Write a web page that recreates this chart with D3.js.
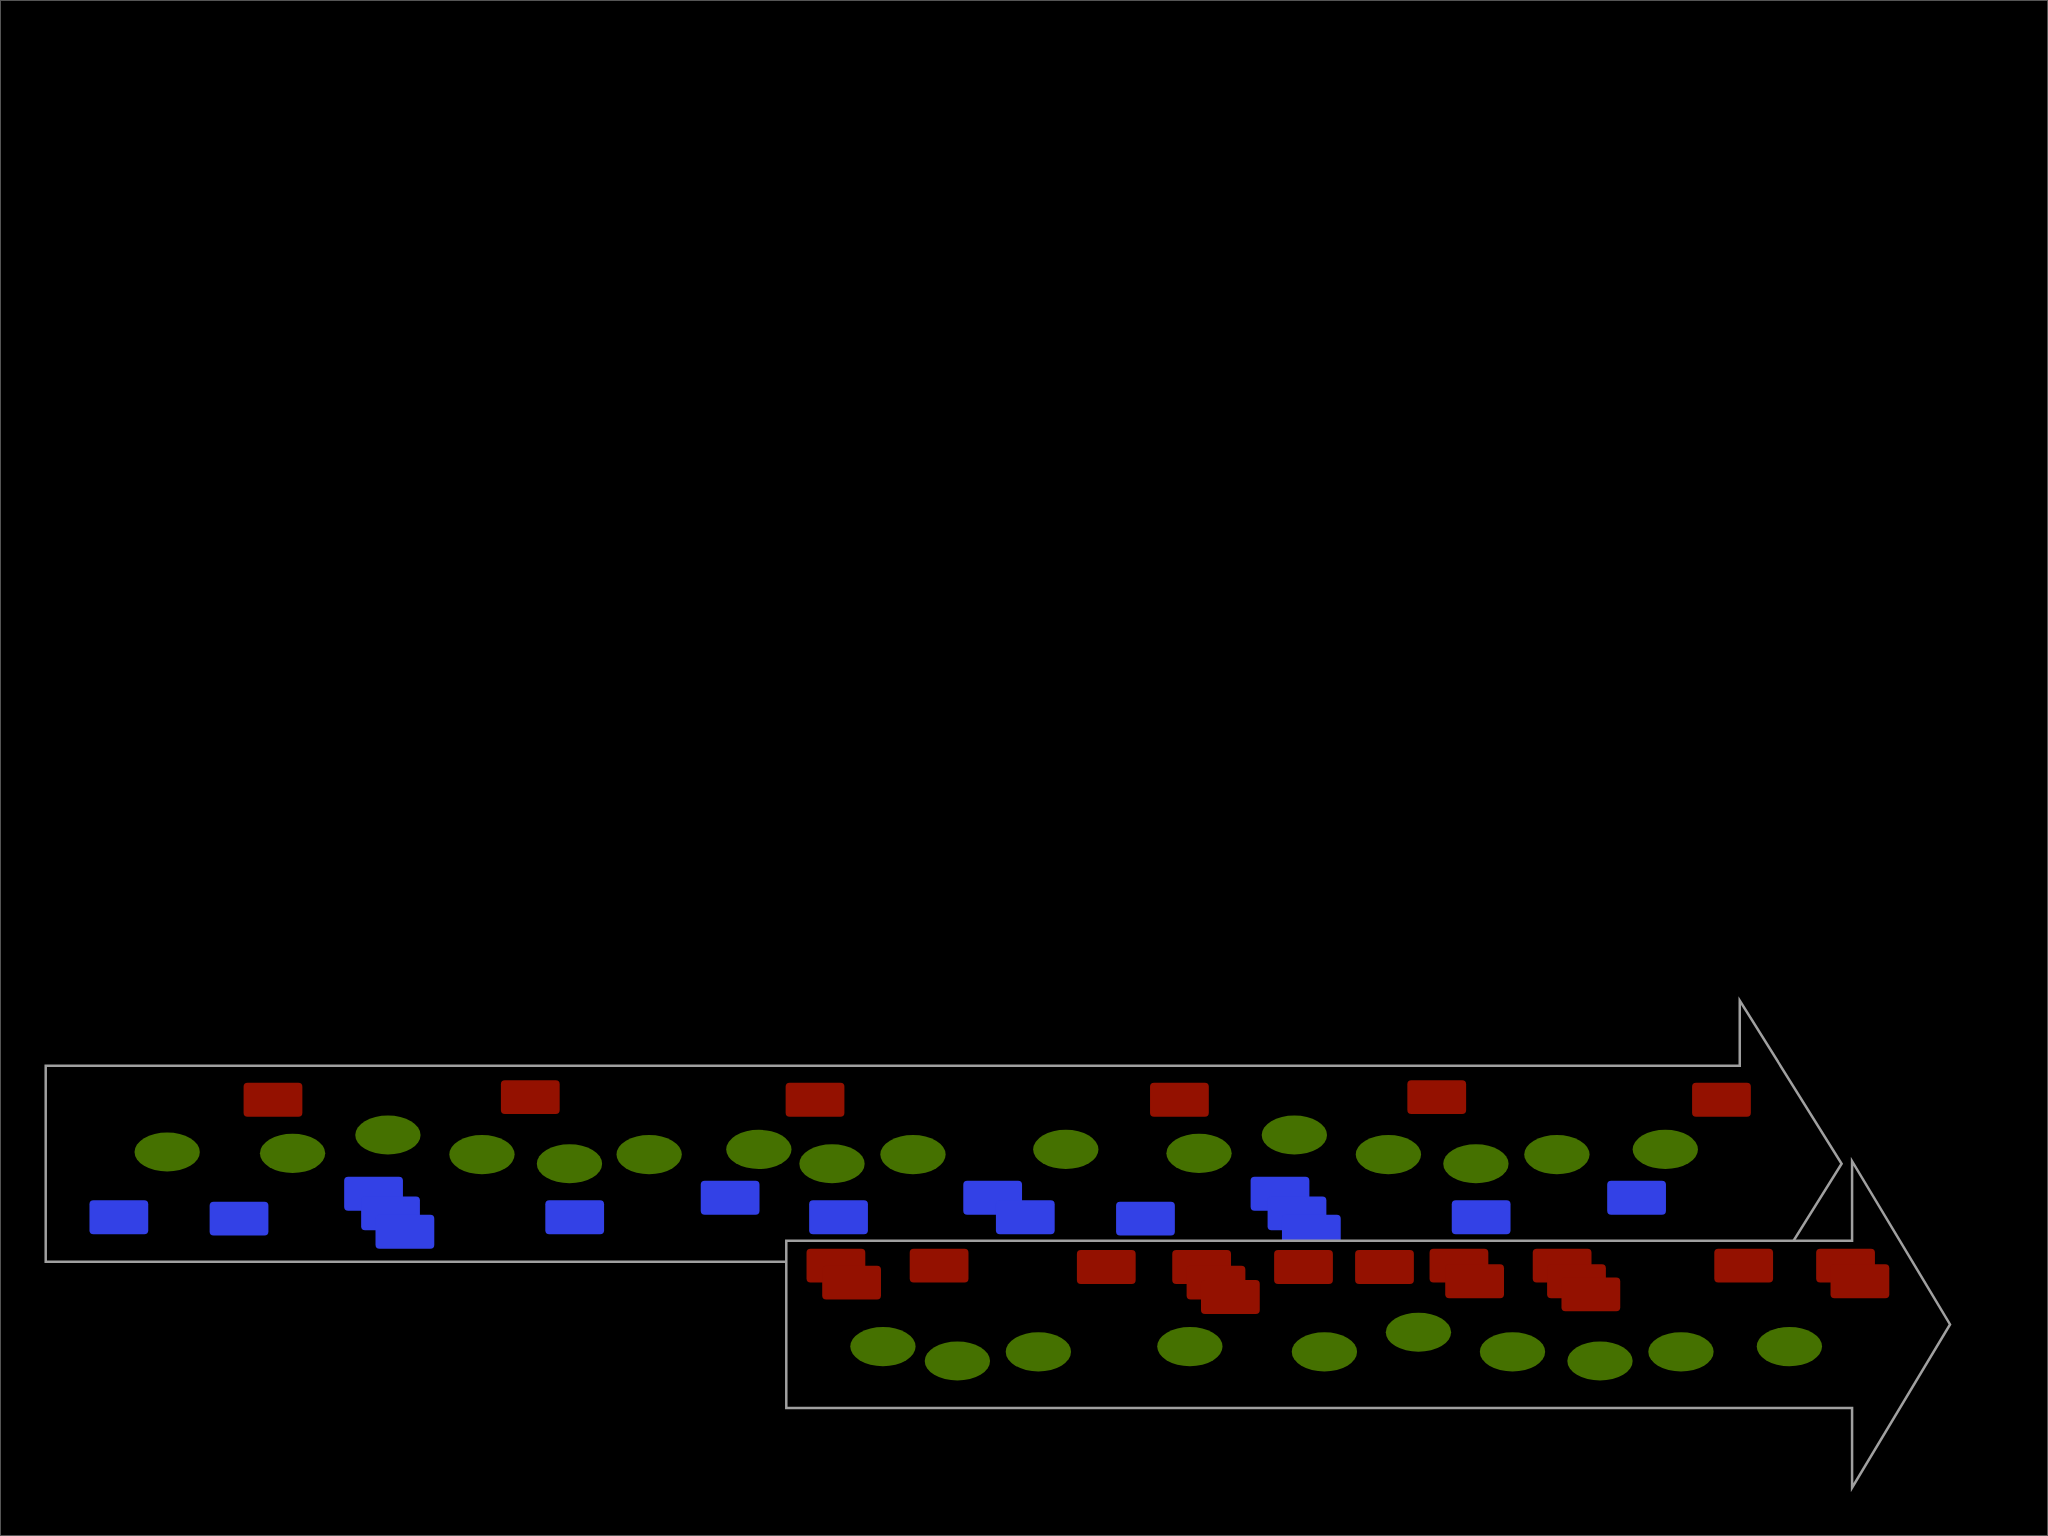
<!DOCTYPE html>
<html>
<head>
<meta charset="utf-8">
<script src="https://cdn.jsdelivr.net/npm/d3@7"></script>
<style>
  html, body { margin: 0; padding: 0; background: #000; }
</style>
</head>
<body>
<div id="chart"></div>
<script>
// posições (unidades de 1568 x 1176)
const vermelhosCima = [[209, 842], [406, 840], [624, 842], [903, 842], [1100, 840], [1318, 842]];
const verdesCima = [
  [128, 882], [224, 883], [297, 869], [369, 884], [436, 891], [497, 884], [581, 880], [637, 891],
  [699, 884], [816, 880], [918, 883], [991, 869], [1063, 884], [1130, 891], [1192, 884], [1275, 880],
];
const azuisCima = [
  [91, 932], [183, 933], [286, 914], [299, 929], [310, 943], [440, 932], [559, 917], [642, 932],
  [760, 917], [785, 932], [877, 933], [980, 914], [993, 929], [1004, 943], [1134, 932], [1253, 917],
];
const vermelhosBaixo = [
  [640, 969], [652, 982], [719, 969], [847, 970], [920, 970], [931, 982], [942, 993], [998, 970],
  [1060, 970], [1117, 969], [1129, 981], [1196, 969], [1207, 981], [1218, 991], [1335, 969],
  [1413, 969], [1424, 981],
];
const verdesBaixo = [
  [676, 1031], [733, 1042], [795, 1035], [911, 1031], [1014, 1035], [1086, 1020], [1158, 1035],
  [1225, 1042], [1287, 1035], [1370, 1031],
];
const seta1 = [[35, 816], [1332, 816], [1332, 766], [1410, 891], [1332, 1016], [1332, 966], [35, 966]];
const seta2 = [[602, 950], [1418, 950], [1418, 889], [1493, 1014], [1418, 1139], [1418, 1078], [602, 1078]];

const width = 2048;
const height = 1536;

const x = d3.scaleLinear().domain([0, 1568]).range([0, width]);
const y = d3.scaleLinear().domain([0, 1176]).range([0, height]);
const k = width / 1568;

const svg = d3
  .select("#chart")
  .append("svg")
  .attr("width", width)
  .attr("height", height);

svg
  .append("rect")
  .attr("x", 0.5)
  .attr("y", 0.5)
  .attr("width", width - 1)
  .attr("height", height - 1)
  .attr("fill", "#000")
  .attr("stroke", "#555");

const linha = d3.line().x((d) => x(d[0])).y((d) => y(d[1]));

const desenhaSeta = (pts) => {
  svg
    .append("path")
    .attr("d", linha(pts) + "Z")
    .attr("fill", "#000")
    .attr("stroke", "#a0a0a0")
    .attr("stroke-width", 2.5);
};

const desenhaRetangulos = (dados, cor) => {
  svg
    .append("g")
    .selectAll()
    .data(dados)
    .enter()
    .append("rect")
    .attr("x", (d) => x(d[0] - 22.5))
    .attr("y", (d) => y(d[1] - 13))
    .attr("width", 45 * k)
    .attr("height", 26 * k)
    .attr("rx", 4)
    .attr("fill", cor);
};

const desenhaElipses = (dados, cor) => {
  svg
    .append("g")
    .selectAll()
    .data(dados)
    .enter()
    .append("ellipse")
    .attr("cx", (d) => x(d[0]))
    .attr("cy", (d) => y(d[1]))
    .attr("rx", 25 * k)
    .attr("ry", 15 * k)
    .attr("fill", cor);
};

desenhaSeta(seta1);
desenhaRetangulos(vermelhosCima, "#941100");
desenhaElipses(verdesCima, "#457100");
desenhaRetangulos(azuisCima, "#3341e6");

desenhaSeta(seta2);
desenhaRetangulos(vermelhosBaixo, "#941100");
desenhaElipses(verdesBaixo, "#457100");
</script>
</body>
</html>
